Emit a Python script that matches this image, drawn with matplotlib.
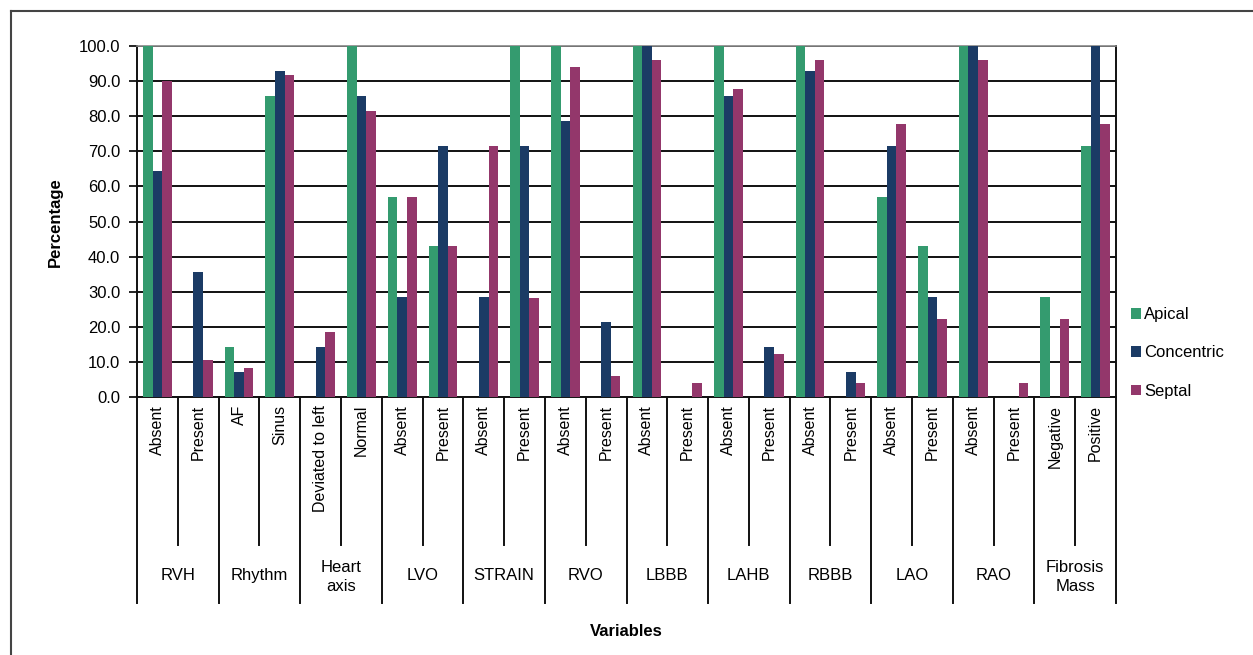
import numpy as np
import matplotlib
matplotlib.use("Agg")
import matplotlib.pyplot as plt
from matplotlib.lines import Line2D
from matplotlib.patches import Patch

plt.rcParams["font.family"] = ["Liberation Sans Narrow", "Liberation Sans", "DejaVu Sans"]
FS = 11.5

GROUPS = ["RVH", "Rhythm", "Heart\naxis", "LVO", "STRAIN", "RVO",
          "LBBB", "LAHB", "RBBB", "LAO", "RAO", "Fibrosis\nMass"]
LEVELS = ["Absent", "Present", "AF", "Sinus", "Deviated to left", "Normal",
          "Absent", "Present", "Absent", "Present", "Absent", "Present",
          "Absent", "Present", "Absent", "Present", "Absent", "Present",
          "Absent", "Present", "Absent", "Present", "Negative", "Positive"]

APICAL = [100.0, 0.0, 14.3, 85.7, 0.0, 100.0,
          57.1, 42.9, 0.0, 100.0, 100.0, 0.0,
          100.0, 0.0, 100.0, 0.0, 100.0, 0.0,
          57.1, 42.9, 100.0, 0.0, 28.6, 71.4]
CONCENTRIC = [64.3, 35.7, 7.1, 92.9, 14.3, 85.7,
              28.6, 71.4, 28.6, 71.4, 78.6, 21.4,
              100.0, 0.0, 85.7, 14.3, 92.9, 7.1,
              71.4, 28.6, 100.0, 0.0, 0.0, 100.0]
SEPTAL = [90.0, 10.5, 8.2, 91.8, 18.5, 81.5,
          57.0, 43.0, 71.4, 28.2, 93.9, 6.1,
          96.0, 4.0, 87.8, 12.2, 96.0, 4.0,
          77.8, 22.2, 96.0, 4.0, 22.2, 77.8]

SERIES = [("Apical", APICAL, "#349B6F"),
          ("Concentric", CONCENTRIC, "#1B3B65"),
          ("Septal", SEPTAL, "#93376B")]

W, H = 1253, 655
fig = plt.figure(figsize=(W / 100, H / 100), dpi=100)
fig.patch.set_facecolor("white")

# plot area in pixel units
left, right, top, bottom = 137, 1116, 46, 397
ax = fig.add_axes([left / W, 1 - bottom / H, (right - left) / W, (bottom - top) / H])

x = np.arange(len(LEVELS))
bw = 0.235
for i, (name, vals, col) in enumerate(SERIES):
    ax.bar(x + (i - 1) * bw, vals, width=bw, color=col, label=name, zorder=3)

ax.set_xlim(-0.5, len(LEVELS) - 0.5)
ax.set_ylim(0, 100)
ax.set_yticks(np.arange(0, 101, 10))
ax.set_yticklabels([f"{v:.1f}" for v in range(0, 101, 10)], fontsize=FS + 0.5)
ax.yaxis.grid(True, color="#111111", linewidth=1.4, zorder=0)
ax.set_axisbelow(True)
ax.tick_params(axis="y", length=6, width=1.2, direction="out", pad=6)
ax.set_xticks([])
for s in ["left", "bottom", "right"]:
    ax.spines[s].set_color("#111111")
    ax.spines[s].set_linewidth(1.4)
ax.spines["top"].set_color("#888888")
ax.spines["top"].set_linewidth(1.2)

fig.text(55 / W, 1 - 222 / H, "Percentage", rotation=90, ha="center", va="center",
         fontsize=FS + 0.5, fontweight="bold")

# hierarchical category axis under the bars
trans = ax.get_xaxis_transform()
ph = bottom - top
sub_y = -(545 - bottom) / ph
grp_y = -(603 - bottom) / ph
for k in range(len(LEVELS) + 1):
    xb = k - 0.5
    y1 = grp_y if k % 2 == 0 else sub_y
    ax.add_line(Line2D([xb, xb], [0, y1], transform=trans, color="#111111",
                       linewidth=1.4, clip_on=False))
for k, lab in enumerate(LEVELS):
    ax.text(k, -(405 - bottom) / ph, lab, transform=trans, rotation=90,
            ha="center", va="top", fontsize=FS)
for g, lab in enumerate(GROUPS):
    ax.text(2 * g + 0.5, -(574 - bottom) / ph, lab, transform=trans,
            ha="center", va="center_baseline", fontsize=FS + 0.5, linespacing=1.3)

fig.text(626 / W, 1 - 632 / H, "Variables", ha="center", va="center",
         fontsize=FS + 0.5, fontweight="bold")

handles = [Patch(facecolor=c, edgecolor="none") for _, _, c in SERIES]
fig.legend(handles, [n for n, _, _ in SERIES], loc="center left",
           bbox_to_anchor=(1131 / W, 1 - 353 / H), frameon=False, fontsize=FS + 0.5,
           handlelength=0.6, handleheight=0.6, handletextpad=0.2,
           labelspacing=1.4, borderpad=0, borderaxespad=0)

# outer frame lines
fig.add_artist(Line2D([11 / W, 1], [1 - 11 / H, 1 - 11 / H], transform=fig.transFigure,
                      color="#444444", linewidth=1.5))
fig.add_artist(Line2D([11 / W, 11 / W], [0, 1 - 11 / H], transform=fig.transFigure,
                      color="#444444", linewidth=1.5))

fig.savefig("out.png", dpi=100)
